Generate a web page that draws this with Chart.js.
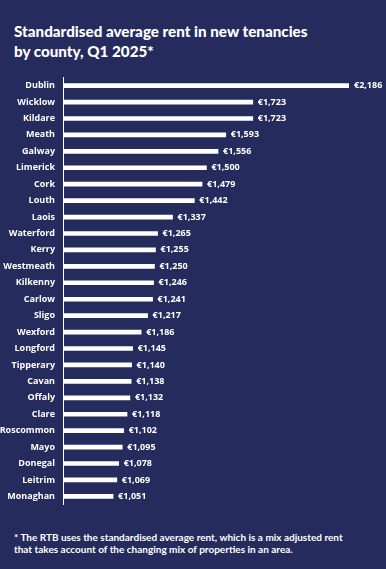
<!DOCTYPE html>
<html>
<head>
<meta charset="utf-8">
<script src="https://cdn.jsdelivr.net/npm/chart.js@4"></script>
<style>
    html, body { margin: 0; padding: 0; }
    body { width: 386px; height: 569px; background: #262b5e; position: relative; overflow: hidden; font-family: "Open Sans", sans-serif; color: #fff; }
    #title { position: absolute; left: 14px; top: 21px; font-family: Lato, sans-serif; font-size: 15.2px; font-weight: 900; line-height: 20px; }
    #note { position: absolute; left: 14px; top: 531px; font-family: Lato, sans-serif; font-size: 10px; font-weight: 700; line-height: 12px; }
    #wrap { position: absolute; left: 0; top: 64px; width: 386px; height: 454px; }
</style>
</head>
<body>
<div id="title">Standardised average rent in new tenancies<br>by county, Q1 2025*</div>
<div id="wrap"><canvas id="rentChart"></canvas></div>
<div id="note">* The RTB uses the standardised average rent, which is a mix adjusted rent<br>that takes account of the changing mix of properties in an area.</div>
<script>
    "use strict";

    // counties, sorted high to low
    const counties = ["Dublin", "Wicklow", "Kildare", "Meath", "Galway", "Limerick", "Cork", "Louth", "Laois",
        "Waterford", "Kerry", "Westmeath", "Kilkenny", "Carlow", "Sligo", "Wexford", "Longford", "Tipperary",
        "Cavan", "Offaly", "Clare", "Roscommon", "Mayo", "Donegal", "Leitrim", "Monaghan"];
    const rents = [2186, 1723, 1723, 1593, 1556, 1500, 1479, 1442, 1337, 1265, 1255, 1250, 1246, 1241, 1217,
        1186, 1145, 1140, 1138, 1132, 1118, 1102, 1095, 1078, 1069, 1051];
    const axisMin = 810;
    const axisMax = 2186;

    // euro labels at the end of each bar
    const valueLabels = {
        id: "valueLabels",
        afterDatasetsDraw(chart) {
            const ctx = chart.ctx;
            const meta = chart.getDatasetMeta(0);
            ctx.save();
            ctx.fillStyle = "#ffffff";
            ctx.font = "700 9px 'Open Sans'";
            ctx.textBaseline = "middle";
            meta.data.forEach(function (bar, i) {
                ctx.fillText("€" + rents[i].toLocaleString("en-IE"), bar.x + 5, bar.y);
            });
            ctx.restore();
        }
    };

    const ctx = document.getElementById("rentChart");
    const myChart = new Chart(ctx, {
        type: "bar",
        data: {
            labels: counties,
            datasets: [{
                data: rents,
                backgroundColor: "#ffffff",
                barThickness: 4,
                borderWidth: 0
            }]
        },
        options: {
            indexAxis: "y",
            responsive: true,
            maintainAspectRatio: false,
            animation: false,
            layout: { padding: { top: 8, bottom: 10, right: 37, left: 0 } },
            plugins: {
                legend: { display: false },
                tooltip: { enabled: false }
            },
            scales: {
                x: {
                    display: false,
                    min: axisMin,
                    max: axisMax
                },
                y: {
                    afterFit: function (scale) { scale.width = 63; },
                    grid: { display: false, drawTicks: false },
                    border: { display: true, color: "#ffffff", width: 1 },
                    ticks: {
                        color: "#ffffff",
                        padding: 8,
                        font: { family: "Open Sans", size: 9, weight: "700" }
                    }
                }
            }
        },
        plugins: [valueLabels]
    });
</script>
</body>
</html>
